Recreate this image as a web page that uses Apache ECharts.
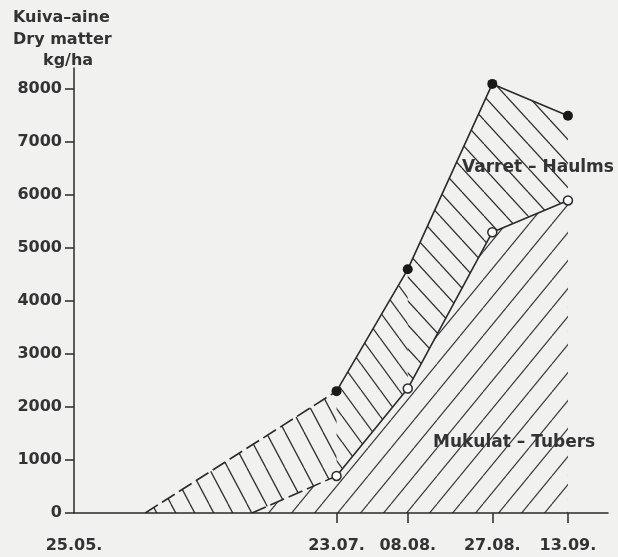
<!DOCTYPE html>
<html><head><meta charset="utf-8">
<script src="https://cdn.jsdelivr.net/npm/echarts@6/dist/echarts.min.js"></script>
<style>html,body{margin:0;padding:0;background:#f1f1ef}#c{width:618px;height:557px}</style>
</head><body><div id="c"></div>
<script>
// Dates (days after 25.05.) and their tick labels
const dateLabels = ['25.05.', '23.07.', '08.08.', '27.08.', '13.09.'];
const dateDays = [0, 59, 75, 94, 111];
const yTicks = [0, 1000, 2000, 3000, 4000, 5000, 6000, 7000, 8000];
// Start of the dashed (extrapolated) parts, value 0
const totalStartDay = 16;
const tubersStartDay = 40;
// Measured values at 23.07., 08.08., 27.08., 13.09.
const totalValues = [2300, 4600, 8100, 7500];   // Varret + Mukulat (filled dots)
const tubersValues = [700, 2350, 5300, 5900];   // Mukulat - Tubers (open dots)

const measDays = dateDays.slice(1);
const totalPts = measDays.map((d, i) => [d, totalValues[i]]);
const tubersPts = measDays.map((d, i) => [d, tubersValues[i]]);
const totalDash = [[totalStartDay, 0], totalPts[0]];
const tubersDash = [[tubersStartDay, 0], tubersPts[0]];

const BG = '#f1f1ef', INK = '#2a2a2a';

function hatch(w, h, dir, bg, color, lw) {
  const c = document.createElement('canvas');
  c.width = w; c.height = h;
  const g = c.getContext('2d');
  if (bg) { g.fillStyle = bg; g.fillRect(0, 0, w, h); }
  g.strokeStyle = color; g.lineWidth = lw;
  for (const off of [-w, 0, w]) {
    g.beginPath();
    if (dir === '/') { g.moveTo(off, h); g.lineTo(off + w, 0); }
    else { g.moveTo(off, 0); g.lineTo(off + w, h); }
    g.stroke();
  }
  return { image: c, repeat: 'repeat' };
}

const hatchSteep = hatch(19, 36, '\\', null, '#333', 1.3);
const hatchMid = hatch(19, 26, '\\', null, '#333', 1.3);
const hatchFlat = hatch(22, 24, '\\', null, '#333', 1.3);
const hatchTubers = hatch(23, 28, '/', BG, '#3c3c3c', 1.2);

function areaSeries(data, pattern, z) {
  return {
    type: 'line', data: data, symbol: 'none', z: z, silent: true,
    lineStyle: { width: 0, opacity: 0 },
    areaStyle: { color: pattern, opacity: 1, origin: 'start' }
  };
}

const chart = echarts.init(document.getElementById('c'), null, { renderer: 'canvas' });
const labelFont = { fontFamily: 'DejaVu Sans', fontWeight: 'bold', fontSize: 16, color: '#333' };

chart.setOption({
  backgroundColor: BG,
  animation: false,
  grid: { left: 74, right: 10, top: 68, bottom: 44 },
  xAxis: {
    type: 'value', min: 0, max: 120, z: 10,
    axisLine: { show: true, onZero: false, lineStyle: { color: INK, width: 1.5 } },
    axisTick: { show: true, inside: false, length: 10, customValues: measDays, lineStyle: { color: INK, width: 1.5 } },
    axisLabel: Object.assign({
      customValues: dateDays, margin: 25,
      formatter: v => dateLabels[dateDays.indexOf(v)] || ''
    }, labelFont),
    splitLine: { show: false }
  },
  yAxis: {
    type: 'value', min: 0, max: 8400, interval: 1000, z: 10,
    axisLine: { show: true, lineStyle: { color: INK, width: 1.5 } },
    axisTick: { show: true, length: 9, customValues: yTicks, lineStyle: { color: INK, width: 1.5 } },
    axisLabel: Object.assign({ customValues: yTicks, margin: 12, formatter: v => String(v) }, labelFont),
    splitLine: { show: false }
  },
  graphic: [
    { type: 'text', left: 13, top: 10, style: { text: 'Kuiva–aine', font: 'bold 16px "DejaVu Sans"', fill: '#333' } },
    { type: 'text', left: 13, top: 32, style: { text: 'Dry matter', font: 'bold 16px "DejaVu Sans"', fill: '#333' } },
    { type: 'text', left: 43, top: 53, style: { text: 'kg/ha', font: 'bold 16px "DejaVu Sans"', fill: '#333' } },
    { type: 'text', left: 462, top: 159, z: 100, style: { text: 'Varret – Haulms', font: 'bold 17px "DejaVu Sans"', fill: '#333' } },
    { type: 'text', left: 433, top: 434, z: 100, style: { text: 'Mukulat – Tubers', font: 'bold 17px "DejaVu Sans"', fill: '#333' } }
  ],
  series: [
    areaSeries([[totalStartDay, 0], totalPts[0]], hatchSteep, 1),
    areaSeries([totalPts[0], totalPts[1]], hatchMid, 1),
    areaSeries(totalPts.slice(1), hatchFlat, 1),
    areaSeries([[tubersStartDay, 0]].concat(tubersPts), hatchTubers, 2),
    { type: 'line', data: totalDash, symbol: 'none', z: 5,
      lineStyle: { color: INK, width: 1.6, type: [15, 5] } },
    { type: 'line', data: tubersDash, symbol: 'none', z: 5,
      lineStyle: { color: INK, width: 1.6, type: [15, 5] } },
    { type: 'line', data: totalPts, symbol: 'circle', symbolSize: 10, z: 6,
      itemStyle: { color: '#1a1a1a' }, lineStyle: { color: INK, width: 1.6 } },
    { type: 'line', data: tubersPts, symbol: 'circle', symbolSize: 9, z: 6,
      itemStyle: { color: '#fbfbfb', borderColor: INK, borderWidth: 1.5 },
      lineStyle: { color: INK, width: 1.6 } }
  ]
});
</script></body></html>
